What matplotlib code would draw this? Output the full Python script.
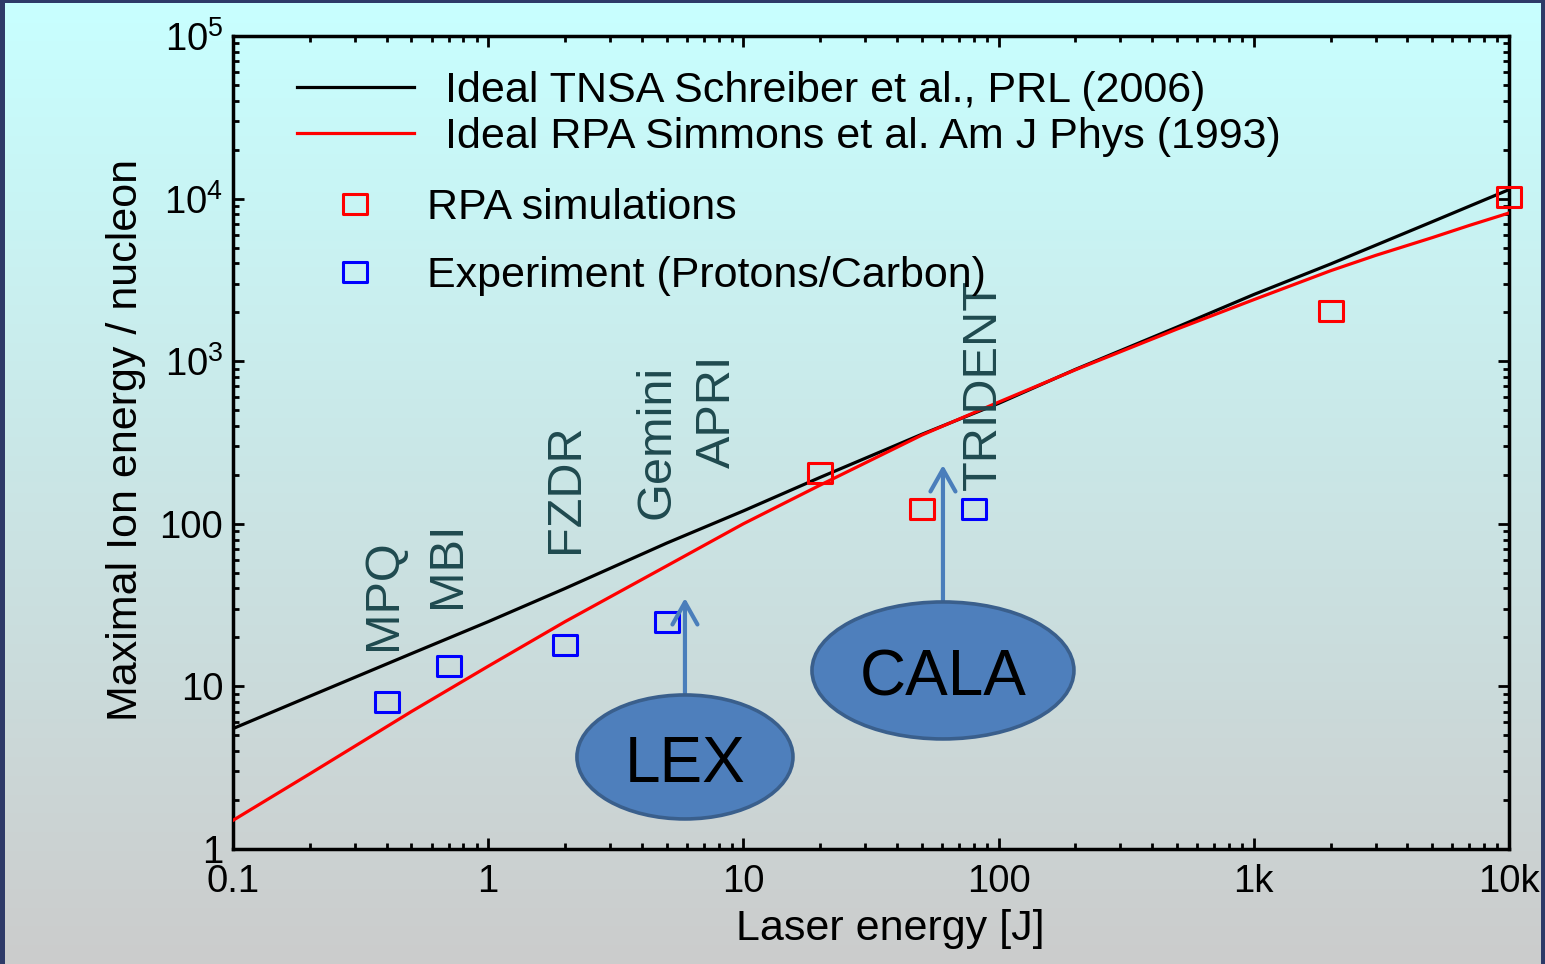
import numpy as np
import matplotlib
matplotlib.use('Agg')
import matplotlib.pyplot as plt
from matplotlib.patches import Ellipse, Rectangle
from matplotlib.path import Path
from matplotlib.lines import Line2D
from matplotlib.ticker import LogLocator, NullFormatter

plt.rcParams['font.family'] = ['Liberation Sans', 'DejaVu Sans']
plt.rcParams['mathtext.fontset'] = 'custom'
plt.rcParams['mathtext.rm'] = 'Liberation Sans'
plt.rcParams['mathtext.it'] = 'Liberation Sans:italic'
plt.rcParams['mathtext.bf'] = 'Liberation Sans:bold'

# ---------------- data ----------------
tnsa_laser = [0.1, 0.2, 0.5, 1, 2, 5, 10, 20, 50, 100, 200, 500, 1000, 2000, 5000, 10000]
tnsa_energy = [5.5, 8.7, 15.9, 25, 40, 76, 120, 193, 355, 550, 890, 1620, 2570, 3960, 7200, 11350]
rpa_laser = [0.1, 0.2, 0.5, 1, 2, 5, 10, 20, 50, 100, 200, 500, 1000, 2000, 3000, 5000, 7000, 10000]
rpa_energy = [1.5, 2.9, 7.0, 13.3, 25, 55, 100, 173, 351, 560, 885, 1575, 2390, 3600, 4470, 5750, 6840, 8150]

rpa_sim_laser = [20, 50, 2000, 10000]
rpa_sim_ion = [205, 123, 2040, 10200]

exp_laser = [0.4, 0.7, 2, 5, 80]
exp_ion = [8.0, 13.3, 18, 25, 123]

facility_names = ['MPQ', 'MBI', 'FZDR', 'Gemini', 'APRI', 'TRIDENT']
facility_x = [0.39, 0.69, 2.0, 4.6, 7.9, 87]
facility_y = [16.7, 30.4, 66, 107, 220, 161]

x_ticks = [0.1, 1, 10, 100, 1000, 10000]
x_tick_labels = ['0.1', '1', '10', '100', '1k', '10k']
y_ticks = [1, 10, 100, 1000, 10000, 100000]
y_tick_labels = ['1', '10', '100', r'$\mathregular{10^3}$', r'$\mathregular{10^4}$', r'$\mathregular{10^5}$']

legend_line_labels = ['Ideal TNSA Schreiber et al., PRL (2006)',
                      'Ideal RPA Simmons et al. Am J Phys (1993)']
legend_marker_labels = ['RPA simulations', 'Experiment (Protons/Carbon)']

# ---------------- figure ----------------
fig = plt.figure(figsize=(15.45, 9.64), dpi=100)

bg = fig.add_axes([0, 0, 1, 1], zorder=-10)
top_c = np.array([200, 255, 255]) / 255
bot_c = np.array([204, 204, 204]) / 255
t = np.linspace(0, 1, 256)[:, None]
grad = top_c * (1 - t) + bot_c * t
bg.imshow(grad[:, None, :], aspect='auto', extent=[0, 1, 0, 1])
bg.axis('off')

ax = fig.add_axes([0.1508, 0.1193, 0.8259, 0.8434])
ax.patch.set_visible(False)
ax.set_xscale('log')
ax.set_yscale('log')
ax.set_xlim(0.1, 1e4)
ax.set_ylim(1, 1e5)

ax.plot(tnsa_laser, tnsa_energy, color='black', lw=2.3, zorder=3)
ax.plot(rpa_laser, rpa_energy, color='#FF0000', lw=2.3, zorder=3)

rect = Path([(-1.25, -1), (1.25, -1), (1.25, 1), (-1.25, 1), (-1.25, -1)], closed=True)
ms = 17.5
mew = 2.2
ax.plot(rpa_sim_laser, rpa_sim_ion, ls='none', marker=rect, ms=ms, mfc='none',
        mec='#FF0000', mew=mew, clip_on=False, zorder=5)
ax.plot(exp_laser, exp_ion, ls='none', marker=rect, ms=ms, mfc='none',
        mec='#0000FF', mew=mew, clip_on=False, zorder=5)

for name, fx, fy in zip(facility_names, facility_x, facility_y):
    ax.text(fx, fy, name, rotation=90, ha='center', va='bottom', fontsize=35,
            color='#1F4A4F', zorder=4)

# ticks
ax.set_xticks(x_ticks, x_tick_labels)
ax.set_yticks(y_ticks, y_tick_labels)
ax.xaxis.set_minor_locator(LogLocator(base=10, subs=np.arange(2, 10), numticks=20))
ax.yaxis.set_minor_locator(LogLocator(base=10, subs=np.arange(2, 10), numticks=20))
ax.xaxis.set_minor_formatter(NullFormatter())
ax.yaxis.set_minor_formatter(NullFormatter())
ax.tick_params(which='both', direction='in', top=True, right=True, width=2, colors='black')
ax.tick_params(which='major', length=8, labelsize=27.5)
ax.tick_params(which='minor', length=4.5)
ax.tick_params(axis='x', which='major', pad=11)
ax.tick_params(axis='y', which='major', pad=7)
for s in ax.spines.values():
    s.set_linewidth(2.5)

ax.set_xlabel('Laser energy [J]', fontsize=31)
ax.xaxis.set_label_coords(0.5149, -0.0738)
ax.set_ylabel('Maximal Ion energy / nucleon', fontsize=31)
ax.yaxis.set_label_coords(-0.068, 0.503)

# legends
line_handles = [Line2D([], [], color='black', lw=2.3), Line2D([], [], color='#FF0000', lw=2.3)]
leg1 = ax.legend(line_handles, legend_line_labels, loc='upper left', bbox_to_anchor=(0.0502, 0.957),
                 frameon=False, fontsize=31, handlelength=2.72, handletextpad=0.72,
                 labelspacing=0.14, borderpad=0, borderaxespad=0)
ax.add_artist(leg1)
marker_handles = [Line2D([], [], ls='none', marker=rect, ms=ms, mfc='none', mec='#FF0000', mew=mew),
                  Line2D([], [], ls='none', marker=rect, ms=ms, mfc='none', mec='#0000FF', mew=mew)]
leg2 = ax.legend(marker_handles, legend_marker_labels, loc='upper left', bbox_to_anchor=(0.0619, 0.8124),
                 frameon=False, fontsize=31, handlelength=2.0, handletextpad=0.67,
                 labelspacing=0.63, borderpad=0, borderaxespad=0)

# ellipses + arrows
ell_fc = '#4E7FBC'
ell_ec = '#3A5F8C'
arrow_c = '#4A7EBB'
for (cx, cy, w, h, label, ty) in [(0.3542, 0.1132, 0.1693, 0.1525, 'LEX', 0.0824),
                                  (0.5564, 0.2196, 0.2053, 0.1685, 'CALA', 0.1894)]:
    e = Ellipse((cx, cy), w, h, transform=ax.transAxes, fc=ell_fc, ec=ell_ec, lw=2.6,
                zorder=6, clip_on=False)
    ax.add_patch(e)
    ax.text(cx, ty, label, transform=ax.transAxes, ha='center', va='baseline',
            fontsize=46, color='black', zorder=7)

for (ax_x, y0, y1) in [(0.3542, 0.1882, 0.3087), (0.5564, 0.3038, 0.4723)]:
    ax.annotate('', xy=(ax_x, y1), xytext=(ax_x, y0), xycoords='axes fraction',
                arrowprops=dict(arrowstyle='->,head_length=0.8,head_width=0.45',
                                color=arrow_c, lw=3, shrinkA=0, shrinkB=0,
                                mutation_scale=20), zorder=5)

# border
bc = '#2E3A68'
W, H = 1545, 964
for (x0, y0, w, h) in [(0, 0, 5 / W, 1), (0, 1 - 3 / H, 1, 3 / H), (1 - 4 / W, 0, 4 / W, 1)]:
    fig.patches.append(Rectangle((x0, y0), w, h, transform=fig.transFigure, fc=bc, ec='none',
                                 zorder=100, figure=fig))

fig.savefig('out.png', dpi=100)
